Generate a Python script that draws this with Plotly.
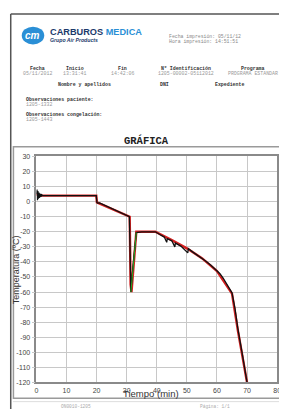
import plotly.graph_objects as go

# window is 287x412, page body has an 8px margin -> figure is 279x404, offset by 8px
OFF = 8
W, H = 287 - OFF, 412 - OFF

# ---- data ----
time_black = [0, 0.2, 0.35, 0.5, 0.65, 0.8, 0.95, 1.1, 1.25, 1.4, 1.6, 1.8, 2.0, 2.5, 4, 6, 8, 10, 12, 14, 16, 18,
              19.9, 20.1, 20.4, 21, 24, 27, 30.9, 31.1, 31.4, 32, 32.6, 33.2, 35, 37, 39.5, 41, 42.5, 43.3, 43.5,
              45, 46, 46.2, 47, 48, 50.3, 50.5, 52, 54, 56, 58, 60, 61, 62, 64, 65, 66, 67, 68.5, 70]
temp_black = [5, 8, 1, 7, 2, 6, 2.5, 5.5, 3, 5, 3.5, 4.5, 4, 4, 4, 3.8, 4, 4, 4, 4, 3.8, 4,
              4, -0.5, -1, -0.8, -3.5, -6.5, -10, -30, -60, -45, -32, -20.5, -20, -20, -20, -21.8, -23.5, -27, -24.6,
              -26, -30, -27.5, -28.2, -29.5, -34, -31.2, -33.5, -36, -39, -42.2, -46, -47.8, -50.5, -57, -60.5, -71, -85, -102, -120]

time_red = [0, 1, 2, 10, 19.9, 20.1, 31, 31.3, 31.6, 33.2, 39.5, 45, 50, 55, 60, 65, 67, 70]
temp_red = [5, 4, 4, 4, 4, -0.5, -10, -55, -60, -20, -20, -25.5, -31, -37.5, -46, -61, -86, -120]

time_green = [31.4, 32.3, 33.2]
temp_green = [-60, -40, -20.5]

x_ticks = [0, 10, 20, 30, 40, 50, 60, 70, 80]
y_ticks = [30, 20, 10, 0, -10, -20, -30, -40, -50, -60, -70, -80, -90, -100, -110, -120]

header_titles = ["Fecha", "Inicio", "Fin", "Nº Identificación", "Programa"]
header_values = ["05/11/2012", "13:31:41", "14:42:06", "1205-00002-05112012", "PROGRAMA ESTANDAR"]
patient_fields = ["Nombre y apellidos", "DNI", "Expediente"]


def px(x):
    return (x - OFF) / W


def py(y):
    return 1 - (y - OFF) / H


fig = go.Figure()
fig.add_trace(go.Scatter(x=time_red, y=temp_red, mode="lines",
                         line=dict(color="#d42020", width=2.4), hoverinfo="skip"))
fig.add_trace(go.Scatter(x=time_black, y=temp_black, mode="lines",
                         line=dict(color="#111111", width=1.3), hoverinfo="skip"))
fig.add_trace(go.Scatter(x=time_green, y=temp_green, mode="lines",
                         line=dict(color="#22aa22", width=1), hoverinfo="skip"))

MONO = "Liberation Mono"
SANS = "Liberation Sans"

ann = []


def text(x, y, s, size, color="#333", family=MONO, anchor="center", bold=False, italic=False, angle=0):
    if bold:
        s = "<b>" + s + "</b>"
    if italic:
        s = "<i>" + s + "</i>"
    ann.append(dict(x=px(x), y=py(y), xref="paper", yref="paper", text=s, showarrow=False,
                    xanchor=anchor, yanchor="middle", textangle=angle,
                    font=dict(family=family, size=size, color=color)))


# logo
text(47, 28, "<b>CARBUROS</b> <b><span style='color:#2a8fd6'>MEDICA</span></b>", 9.2, "#1b3a6b", SANS, "left")
text(47, 37, "Grupo Air Products", 5.2, "#1b3a6b", SANS, "left", bold=True, italic=True)
text(31, 32, "<i><b>cm</b></i>", 10, "white", SANS)
text(168, 33, "Fecha impresión: 05/11/12", 4.8, "#888", MONO, "left")
text(168, 38, "Hora impresión: 14:51:51", 4.8, "#888", MONO, "left")

hx = [36, 74, 123, 188, 256]
for x, t, v in zip(hx, header_titles, header_values):
    text(x, 66, t, 4.9, "#333", MONO, bold=True)
    text(x, 71, v, 4.9, "#999", MONO)
for x, t in zip([84, 166, 232], patient_fields):
    text(x, 82, t, 4.9, "#333", MONO, bold=True)
text(22, 97, "Observaciones paciente:", 4.9, "#333", MONO, "left", bold=True)
text(22, 102, "1205-1332", 4.9, "#999", MONO, "left")
text(22, 112, "Observaciones congelación:", 4.9, "#333", MONO, "left", bold=True)
text(22, 117, "1205-1443", 4.9, "#999", MONO, "left")

text(147, 139, "GRÁFICA", 10.5, "#222", MONO, bold=True)

text(152, 396, "Tiempo (min)", 9.5, "#333", SANS)
text(15, 270, "Temperatura (ºC)", 9, "#333", SANS, angle=-90)

text(75, 409, "ON0010-1205", 4.5, "#aaa", MONO)
text(218, 409, "Página: 1/1", 4.5, "#aaa", MONO)

shapes = [
    # page border
    dict(type="line", xref="paper", yref="paper", x0=px(8.75), x1=px(287), y0=py(10), y1=py(10),
         line=dict(color="#555", width=1.5)),
    dict(type="line", xref="paper", yref="paper", x0=px(8.75), x1=px(8.75), y0=py(10), y1=py(412),
         line=dict(color="#555", width=1.5)),
    # logo blob
    dict(type="circle", xref="paper", yref="paper", x0=px(20), x1=px(43), y0=py(41), y1=py(23),
         fillcolor="#2a8fd6", line=dict(width=0)),
    # chart frame
    dict(type="rect", xref="paper", yref="paper", x0=px(11.5), x1=px(285), y0=py(401), y1=py(145),
         line=dict(color="#9a9a9a", width=1.5)),
    # footer line
    dict(type="line", xref="paper", yref="paper", x0=px(11), x1=px(287), y0=py(404.5), y1=py(404.5),
         line=dict(color="#dddddd", width=1)),
]

fig.update_layout(
    width=W, height=H, margin=dict(l=0, r=0, t=0, b=0),
    paper_bgcolor="white", plot_bgcolor="white", showlegend=False,
    annotations=ann, shapes=shapes,
    xaxis=dict(domain=[px(35), px(281)], range=[0, 80], tickvals=x_ticks,
               ticktext=[str(v) for v in x_ticks], showgrid=True, gridcolor="#c8c8c8", gridwidth=1,
               zeroline=False, showline=True, mirror=True, linecolor="#8a8a8a", linewidth=1.5,
               ticks="", tickfont=dict(family=SANS, size=7, color="#444")),
    yaxis=dict(domain=[py(385), py(155)], range=[-120, 30], tickvals=y_ticks,
               ticktext=[str(v) for v in y_ticks], showgrid=True, gridcolor="#c8c8c8", gridwidth=1,
               zeroline=False, showline=True, mirror=True, linecolor="#8a8a8a", linewidth=1.5,
               ticks="outside", ticklen=3, tickcolor="#c8c8c8",
               tickfont=dict(family=SANS, size=7, color="#444")),
)

fig.write_html("out.html")
